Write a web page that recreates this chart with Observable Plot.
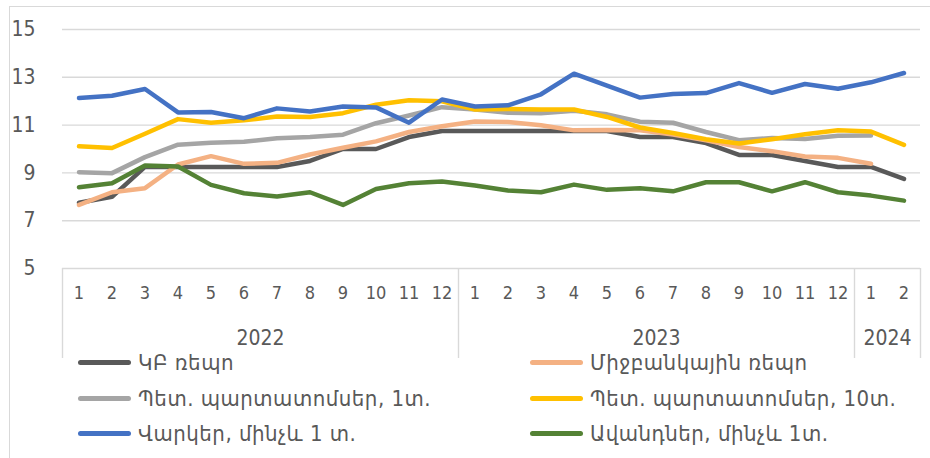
<!DOCTYPE html>
<html><head><meta charset="utf-8">
<script src="https://cdn.jsdelivr.net/npm/d3@7"></script>
<script src="https://cdn.jsdelivr.net/npm/@observablehq/plot@0.6"></script>
<style>
body{margin:0;background:#fff;width:930px;height:458px;overflow:hidden;position:relative;font-family:"DejaVu Sans Condensed","DejaVu Sans",sans-serif;color:#595959;}
#frame{position:absolute;left:9px;top:6px;width:940px;height:470px;border:1px solid #d9d9d9;}
#chart{position:absolute;left:0;top:0;}
.lg{position:absolute;display:flex;align-items:center;font-size:22px;letter-spacing:0.5px;color:#595959;white-space:nowrap;}
.sw{display:inline-block;width:53px;height:5px;border-radius:3px;margin-right:7px;}
</style></head><body>
<div id="frame"></div>
<div id="chart"></div>
<div id="legend"></div>
<script>
// ---- data ----
const months = [1,2,3,4,5,6,7,8,9,10,11,12, 1,2,3,4,5,6,7,8,9,10,11,12, 1,2];
const years = ["2022","2023","2024"];
const yearStart = [0,12,24];
const yearEnd = [11,23,25];
const seriesNames = ["ԿԲ ռեպո","Միջբանկային ռեպո","Պետ. պարտատոմսեր, 1տ.","Պետ. պարտատոմսեր, 10տ.","Վարկեր, մինչև 1 տ.","Ավանդներ, մինչև 1տ."];
const cbRepo    = [7.75,8.0,9.25,9.25,9.25,9.25,9.25,9.5,10.0,10.0,10.5,10.75, 10.75,10.75,10.75,10.75,10.75,10.5,10.5,10.25,9.75,9.75,9.5,9.25, 9.25,8.75];
const interbank = [7.66,8.19,8.36,9.35,9.70,9.38,9.42,9.77,10.05,10.32,10.71,10.95, 11.15,11.13,10.99,10.78,10.8,10.78,10.61,10.36,10.08,9.91,9.69,9.63, 9.38,null];
const gov1y     = [9.03,8.99,9.66,10.18,10.26,10.30,10.45,10.5,10.6,11.08,11.4,11.75, 11.65,11.52,11.5,11.6,11.45,11.14,11.1,10.71,10.37,10.46,10.42,10.55, 10.57,null];
const gov10y    = [10.11,10.04,10.64,11.25,11.1,11.2,11.36,11.34,11.5,11.85,12.04,12.0, 11.65,11.67,11.65,11.65,11.34,10.9,10.67,10.41,10.23,10.41,10.62,10.78, 10.73,10.17];
const loans     = [12.13,12.23,12.51,11.53,11.55,11.29,11.70,11.57,11.78,11.74,11.1,12.07, 11.78,11.83,12.29,13.15,12.65,12.15,12.3,12.34,12.76,12.35,12.72,12.52, 12.79,13.18];
const deposits  = [8.4,8.57,9.31,9.27,8.5,8.15,8.01,8.19,7.66,8.33,8.57,8.64, 8.47,8.26,8.19,8.51,8.29,8.36,8.23,8.61,8.61,8.23,8.61,8.19, 8.05,7.84];
const yTicks = [5,7,9,11,13,15];
// ---- styles ----
const seriesColors = ["#595959","#F4B183","#A5A5A5","#FFC000","#4472C4","#548235"];

const allSeries = [cbRepo, interbank, gov1y, gov10y, loans, deposits];
const rows = [];
allSeries.forEach((vals, s) => vals.forEach((v, i) => { if (v != null) rows.push({i, v, s: seriesNames[s]}); }));
const idx = months.map((m, i) => i);
const seps = [yearStart[0] - 0.5, ...yearEnd.map(e => e + 0.5)];
const yearRows = years.map((y, k) => ({y, c: (yearStart[k] + yearEnd[k]) / 2}));

const chart = Plot.plot({
  width: 930, height: 458,
  marginLeft: 62, marginRight: 10, marginTop: 29, marginBottom: 190,
  style: {fontFamily: '"DejaVu Sans Condensed","DejaVu Sans",sans-serif', color: "#595959", background: "transparent"},
  x: {type: "linear", domain: [-0.5, 25.5], axis: null},
  y: {domain: [5, 15], axis: null},
  color: {domain: seriesNames, range: seriesColors},
  marks: [
    Plot.ruleY(yTicks, {stroke: "#d9d9d9", strokeWidth: 1.4}),
    Plot.ruleX(seps, {x: d => d, y1: 5, y2: 5, insetBottom: -90, stroke: "#d9d9d9", strokeWidth: 1.4}),
    Plot.axisY({ticks: yTicks, tickSize: 0, tickPadding: 27, fontSize: 21, label: null, fill: "#595959"}),
    Plot.text(idx, {x: d => d, text: d => String(months[d]), frameAnchor: "bottom", dy: 30, fontSize: 18, fill: "#595959"}),
    Plot.text(yearRows, {x: "c", text: "y", frameAnchor: "bottom", dy: 76, fontSize: 21, fill: "#595959"}),
    Plot.line(rows, {x: "i", y: "v", z: "s", stroke: "s", strokeWidth: 4.5, strokeLinecap: "round", strokeLinejoin: "round"})
  ]
});
document.getElementById("chart").appendChild(chart);

// legend (HTML, placed over the lower part)
const lgPos = [[78,362],[530,362],[78,398],[530,398],[78,433],[530,433]];
const lg = document.getElementById("legend");
seriesNames.forEach((name, k) => {
  const d = document.createElement("div");
  d.className = "lg";
  d.style.left = lgPos[k][0] + "px";
  d.style.top = (lgPos[k][1] - 14) + "px";
  d.style.height = "28px";
  d.innerHTML = `<span class="sw" style="background:${seriesColors[k]}"></span><span>${name}</span>`;
  lg.appendChild(d);
});
</script>
</body></html>
